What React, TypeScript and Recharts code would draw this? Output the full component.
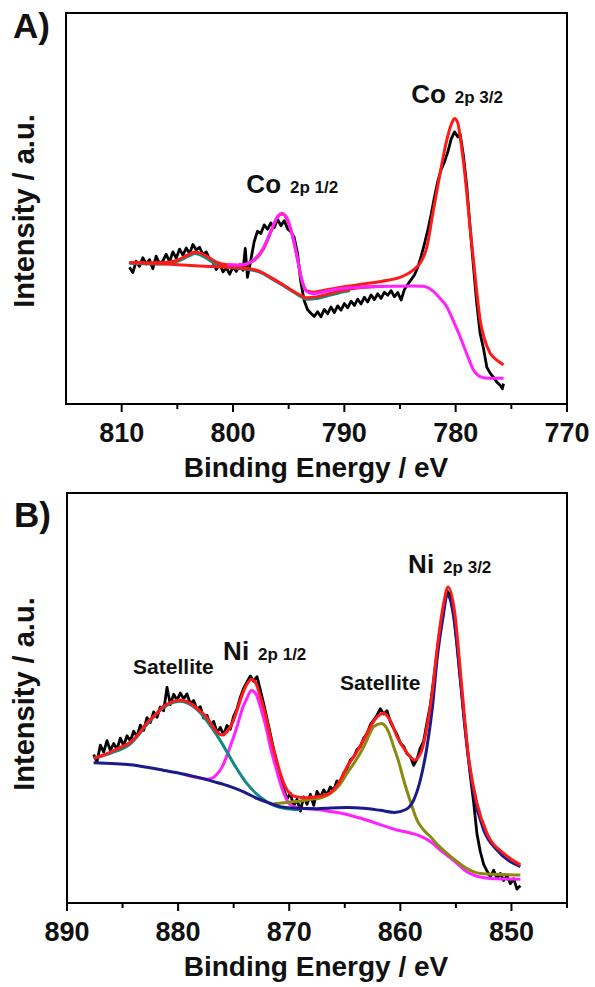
import React from 'react';
import { LineChart, Line, XAxis, YAxis, ReferenceArea, ReferenceDot } from 'recharts';

type Pt = { x: number; y: number };
const pts = (rows: number[][]): Pt[] => rows.map(([x, y]) => ({ x, y }));

// ---------- Panel A: Co 2p ----------
const ticksA = [770, 775, 780, 785, 790, 795, 800, 805, 810];

const rawA = pts([
  [809.3, 35.0], [809.0, 33.6], [808.7, 36.5], [808.4, 35.2], [808.1, 37.4], [807.8, 35.8], [807.5, 36.9],
  [807.2, 34.6], [806.9, 37.8], [806.6, 35.9], [806.3, 36.6], [806.0, 38.3], [805.7, 36.4], [805.4, 38.9],
  [805.1, 37.3], [804.8, 39.6], [804.5, 38.1], [804.2, 39.9], [803.9, 38.5], [803.6, 40.8], [803.3, 39.4],
  [803.0, 40.1], [802.7, 38.2], [802.4, 38.9], [802.1, 37.0], [801.8, 36.3], [801.5, 34.4], [801.2, 35.9],
  [800.9, 33.8], [800.6, 34.9], [800.3, 33.2], [800.0, 35.1], [799.7, 33.9], [799.4, 35.6], [799.1, 34.2],
  [798.9, 39.8], [798.7, 32.4], [798.4, 36.8], [798.1, 41.5], [797.8, 44.2], [797.5, 43.6], [797.2, 45.8],
  [796.9, 44.7], [796.6, 46.3], [796.3, 45.1], [796.0, 47.2], [795.7, 45.6], [795.4, 46.9], [795.1, 44.8],
  [794.8, 44.1], [794.5, 42.6], [794.2, 38.4], [793.9, 31.0], [793.6, 26.4], [793.3, 24.1], [793.0, 23.2],
  [792.7, 22.4], [792.4, 23.6], [792.1, 22.3], [791.8, 24.2], [791.5, 23.1], [791.2, 24.8], [790.9, 23.4],
  [790.6, 25.1], [790.3, 24.0], [790.0, 25.7], [789.7, 24.6], [789.4, 26.3], [789.1, 25.2], [788.8, 26.8],
  [788.5, 25.6], [788.2, 27.3], [787.9, 26.1], [787.6, 27.9], [787.3, 26.7], [787.0, 28.2], [786.7, 27.0],
  [786.4, 28.6], [786.1, 27.8], [785.8, 29.0], [785.5, 27.4], [785.2, 28.5], [784.9, 26.6], [784.6, 29.3],
  [784.3, 30.6], [784.0, 31.8], [783.7, 33.0], [783.4, 35.0], [783.1, 37.8], [782.8, 41.0], [782.5, 44.5],
  [782.2, 48.5], [781.9, 53.0], [781.6, 57.0], [781.3, 60.0], [781.0, 62.0], [780.7, 64.5], [780.4, 67.8],
  [780.1, 69.6], [779.8, 68.3], [779.6, 69.0], [779.3, 63.5], [779.0, 55.6], [778.7, 45.0], [778.4, 35.1],
  [778.1, 25.5], [777.8, 18.0], [777.5, 14.2], [777.2, 9.4], [776.9, 7.9], [776.6, 6.8], [776.3, 5.6],
  [776.0, 4.8], [775.8, 3.9], [775.7, 5.2],
]);

const tealA = pts([
  [809.3, 36.0], [807.0, 35.8], [806.0, 35.9], [805.0, 36.5], [804.0, 37.8], [803.4, 38.5], [802.5, 37.5],
  [801.5, 35.7], [800.5, 35.0], [798.8, 34.5], [797.5, 33.6], [796.5, 32.0], [795.5, 30.3], [794.5, 28.5],
  [793.8, 27.3], [793.4, 26.8], [792.5, 27.0], [791.5, 27.7], [790.5, 28.4], [789.5, 29.0],
]);

const baseA = pts([
  [809.3, 36.2], [806.0, 35.8], [803.0, 35.3], [800.5, 35.0], [798.8, 34.7], [797.5, 33.8], [796.5, 32.2],
  [795.5, 30.5], [794.5, 28.7], [793.8, 27.6], [793.4, 27.2], [792.5, 27.4], [791.5, 28.1], [790.5, 28.8],
  [789.5, 29.4], [788.5, 29.8], [787.5, 30.0], [786.5, 30.1],
]);

const envA = pts([
  [809.3, 36.2], [807.5, 36.1], [806.0, 36.2], [805.0, 36.8], [804.0, 38.2], [803.4, 38.9], [802.5, 38.0],
  [801.5, 36.3], [800.5, 35.6], [799.5, 35.5], [798.8, 35.8], [798.0, 37.0], [797.3, 39.5], [796.6, 44.0],
  [796.0, 47.8], [795.6, 48.6], [795.2, 47.6], [794.7, 43.5], [794.2, 37.0], [793.8, 31.5], [793.4, 29.0],
  [792.8, 28.6], [792.0, 29.0], [791.0, 29.5], [790.0, 30.0], [789.0, 30.4], [788.0, 30.8], [787.0, 31.2],
  [786.0, 31.7], [785.0, 32.4], [784.3, 33.3], [783.8, 34.3], [783.2, 36.0], [782.6, 40.0], [782.0, 49.6],
  [781.4, 59.0], [780.8, 67.5], [780.4, 71.5], [780.1, 73.0], [779.8, 71.8], [779.6, 68.4], [779.3, 62.0],
  [779.0, 53.9], [778.7, 45.0], [778.4, 36.8], [778.1, 28.5], [777.8, 21.5], [777.4, 16.5], [776.9, 13.0],
  [776.3, 11.2], [775.7, 10.0],
]);

const magA = pts([
  [800.5, 35.6], [799.5, 35.5], [798.8, 35.8], [798.0, 37.2], [797.3, 39.8], [796.6, 44.2], [796.0, 48.0],
  [795.6, 48.8], [795.2, 47.8], [794.7, 43.5], [794.2, 37.0], [793.8, 31.5], [793.4, 28.8], [792.8, 28.2],
  [792.0, 28.6], [791.0, 29.2], [790.0, 29.6], [789.0, 29.8], [788.0, 30.0], [786.0, 30.1], [784.0, 30.2],
  [782.9, 30.1], [782.0, 28.8], [781.4, 27.0], [780.8, 24.9], [780.2, 21.2], [779.6, 17.2], [779.0, 12.8],
  [778.4, 8.7], [777.8, 7.0], [777.2, 6.6], [775.7, 6.6],
]);

// ---------- Panel B: Ni 2p ----------
const ticksB = [845, 850, 855, 860, 865, 870, 875, 880, 885, 890];

const rawB = pts([
  [887.6, 36.2], [887.3, 34.4], [887.0, 38.5], [886.7, 36.8], [886.4, 39.6], [886.1, 37.2], [885.8, 38.9],
  [885.5, 37.5], [885.2, 40.2], [884.9, 38.4], [884.6, 40.8], [884.3, 39.5], [884.0, 41.9], [883.7, 40.6],
  [883.4, 43.4], [883.1, 42.1], [882.8, 45.2], [882.5, 44.0], [882.2, 46.6], [881.9, 45.3], [881.6, 47.8],
  [881.3, 46.9], [881.0, 52.6], [880.7, 48.4], [880.4, 50.9], [880.1, 49.5], [879.8, 51.2], [879.5, 49.8],
  [879.2, 51.0], [878.9, 48.6], [878.6, 49.4], [878.3, 47.2], [878.0, 47.9], [877.7, 45.1], [877.4, 45.8],
  [877.1, 43.2], [876.8, 44.3], [876.5, 41.6], [876.2, 42.8], [875.9, 41.0], [875.6, 43.3], [875.3, 42.4],
  [875.0, 45.6], [874.7, 47.3], [874.4, 50.2], [874.1, 52.4], [873.8, 53.9], [873.5, 55.4], [873.2, 54.1],
  [872.9, 55.2], [872.6, 52.0], [872.3, 48.6], [872.0, 45.0], [871.7, 41.2], [871.4, 37.5], [871.1, 33.8],
  [870.8, 30.2], [870.5, 27.9], [870.2, 25.4], [869.9, 26.8], [869.6, 23.6], [869.3, 25.3], [869.0, 22.4],
  [868.7, 25.9], [868.4, 24.1], [868.1, 26.5], [867.8, 23.8], [867.5, 27.2], [867.2, 25.8], [866.9, 27.6],
  [866.6, 26.4], [866.3, 28.3], [866.0, 27.5], [865.7, 29.8], [865.4, 29.2], [865.1, 31.7], [864.8, 32.8],
  [864.5, 34.9], [864.2, 35.6], [863.9, 37.4], [863.6, 38.1], [863.3, 40.2], [863.0, 41.3], [862.7, 43.5],
  [862.4, 44.6], [862.1, 45.8], [861.8, 47.4], [861.5, 46.1], [861.2, 46.9], [860.9, 44.2], [860.6, 42.6],
  [860.3, 41.1], [860.0, 39.0], [859.7, 38.2], [859.4, 36.4], [859.1, 35.7], [858.8, 33.6], [858.5, 35.1],
  [858.2, 37.8], [857.9, 39.5], [857.6, 44.0], [857.3, 48.2], [857.0, 54.6], [856.7, 61.0], [856.4, 67.5],
  [856.1, 72.4], [855.8, 76.2], [855.5, 75.0], [855.2, 70.4], [854.9, 63.2], [854.6, 54.8], [854.3, 46.0],
  [854.0, 38.5], [853.7, 31.0], [853.4, 24.5], [853.1, 16.8], [852.8, 12.5], [852.5, 9.4], [852.2, 7.8],
  [851.9, 6.4], [851.6, 8.0], [851.3, 6.0], [851.0, 7.2], [850.7, 5.5], [850.4, 6.6], [850.1, 4.7],
  [849.8, 5.9], [849.5, 3.4], [849.2, 4.2],
]);

const magB = pts([
  [879.5, 31.4], [878.3, 30.6], [877.4, 30.2], [877.0, 30.4], [876.5, 31.4], [876.0, 33.4], [875.4, 37.5],
  [874.7, 43.0], [874.2, 47.5], [873.8, 50.0], [873.4, 51.8], [873.0, 51.0], [872.6, 47.9], [872.1, 43.0],
  [871.7, 38.1], [871.2, 33.0], [870.8, 29.2], [870.4, 26.2], [870.0, 24.3], [869.5, 23.4], [869.0, 23.1],
  [868.0, 22.9], [866.5, 22.4], [865.3, 21.9], [863.5, 20.6], [862.0, 19.3], [860.3, 17.8], [859.0, 17.0],
  [858.2, 16.3], [857.2, 14.8], [856.4, 12.9], [855.5, 11.0], [854.9, 9.7], [854.2, 8.0], [853.4, 6.8],
  [851.9, 6.0], [849.2, 5.8],
]);

const tealB = pts([
  [887.6, 35.3], [886.0, 36.6], [884.3, 38.8], [882.85, 43.4], [881.35, 47.6], [879.85, 49.2], [878.3, 47.2],
  [877.4, 44.4], [876.2, 39.6], [875.0, 34.0], [873.8, 29.1], [872.6, 25.8], [871.4, 23.8], [870.2, 23.0],
  [869.0, 22.8],
]);

const oliveB = pts([
  [871.4, 24.2], [870.0, 24.6], [869.0, 24.9], [868.0, 25.3], [867.0, 25.8], [866.3, 26.7], [865.5, 28.7],
  [864.8, 31.6], [864.0, 34.8], [863.3, 38.1], [862.8, 41.0], [862.4, 43.0], [861.7, 43.8], [861.1, 42.0],
  [860.6, 38.1], [860.1, 34.0], [859.7, 30.0], [859.1, 24.8], [858.5, 20.2], [857.9, 17.8], [857.3, 16.2],
  [856.5, 13.8], [855.8, 12.1], [855.0, 10.3], [854.3, 8.9], [852.8, 7.2], [849.2, 6.8],
]);

const blueB = pts([
  [887.6, 34.2], [886.0, 34.0], [884.3, 33.7], [882.8, 33.1], [881.35, 32.4], [879.8, 31.6], [878.3, 30.7],
  [876.8, 29.6], [875.3, 28.4], [874.0, 27.0], [872.9, 25.5], [871.8, 24.4], [870.8, 23.5], [869.3, 23.1],
  [867.5, 23.0], [866.3, 23.2], [864.8, 23.3], [863.3, 23.1], [861.8, 22.6], [860.5, 22.1], [859.5, 22.8],
  [858.8, 25.1], [858.2, 30.0], [857.6, 38.1], [857.1, 48.0], [856.7, 59.3], [856.1, 70.7], [855.8, 75.1],
  [855.2, 69.8], [854.6, 54.4], [854.0, 38.1], [853.4, 26.7], [852.5, 17.8], [851.3, 12.9], [849.2, 8.9],
]);

const envB = pts([
  [887.6, 35.3], [886.5, 36.3], [885.5, 37.6], [884.3, 39.2], [883.5, 41.4], [882.85, 43.8], [882.0, 46.0],
  [881.35, 47.9], [880.6, 49.0], [879.85, 49.5], [879.1, 49.0], [878.3, 47.5], [877.4, 45.2], [876.6, 42.0],
  [876.1, 41.0], [875.6, 41.8], [875.1, 44.0], [874.7, 47.0], [874.2, 51.0], [873.8, 53.4], [873.4, 54.6],
  [873.0, 53.6], [872.6, 50.3], [872.1, 45.5], [871.7, 40.6], [871.2, 35.5], [870.8, 31.6], [870.2, 27.6],
  [869.5, 26.0], [868.5, 25.7], [867.5, 25.9], [866.3, 26.9], [865.5, 29.5], [864.8, 33.2], [864.0, 36.5],
  [863.3, 39.8], [862.7, 43.0], [862.1, 45.4], [861.5, 46.3], [860.9, 44.5], [860.3, 40.6], [859.5, 37.0],
  [858.7, 34.9], [858.1, 37.0], [857.6, 43.0], [857.1, 52.0], [856.7, 61.7], [856.1, 73.1], [855.7, 77.1],
  [855.1, 70.7], [854.5, 53.6], [853.9, 36.5], [853.1, 24.3], [852.2, 17.0], [850.7, 12.1], [849.2, 9.3],
]);

const FONT = '"Liberation Sans", Arial, Helvetica, sans-serif';

const AxisTick = (props: any) => {
  const { x, y, payload } = props;
  const major = payload.value % 10 === 0;
  return (
    <g>
      <line x1={x} x2={x} y1={y} y2={y + (major ? 8 : 5)} stroke="#000" strokeWidth={2} />
      {major && (
        <text x={x} y={y + 38} textAnchor="middle" fontFamily={FONT} fontWeight="bold" fontSize={27} fill="#111">
          {payload.value}
        </text>
      )}
    </g>
  );
};

const Peak = ({ cx, cy, main, sub }: any) => (
  <text x={cx} y={cy} fontFamily={FONT} fontWeight="bold" fill="#111">
    <tspan fontSize={26}>{main}</tspan>
    <tspan fontSize={17} dx={9}>{sub}</tspan>
  </text>
);

const Word = ({ cx, cy, text }: any) => (
  <text x={cx} y={cy} fontFamily={FONT} fontWeight="bold" fontSize={21} fill="#111">
    {text}
  </text>
);

const line = (data: Pt[], color: string, w = 3, type: 'linear' | 'monotone' = 'monotone') => (
  <Line
    data={data}
    dataKey="y"
    type={type}
    stroke={color}
    strokeWidth={w}
    dot={false}
    activeDot={false}
    isAnimationActive={false}
    strokeLinejoin="round"
  />
);

export default function App() {
  return (
    <div style={{ position: 'absolute', left: 0, top: 0, width: 595, height: 987, background: '#fff' }}>
      <div style={{ position: 'absolute', left: 0, top: 0 }}>
        <LineChart width={595} height={487} margin={{ top: 13, right: 28, left: 0, bottom: 0 }}>
          <XAxis
            dataKey="x"
            type="number"
            domain={[770, 815]}
            reversed
            allowDataOverflow
            ticks={ticksA}
            interval={0}
            tick={<AxisTick />}
            tickSize={0}
            tickMargin={0}
            tickLine={false}
            axisLine={false}
            height={83}
          />
          <YAxis domain={[0, 100]} width={66} tick={false} tickLine={false} axisLine={false} allowDataOverflow />
          {line(rawA, '#000', 2.8, 'linear')}
          {line(tealA, '#128a80')}
          {line(baseA, '#ff1a1a')}
          {line(envA, '#ff1a1a')}
          {line(magA, '#ff22ff')}
          <ReferenceArea x1={770} x2={815} y1={0} y2={100} fill="none" stroke="#000" strokeWidth={2} ifOverflow="visible" />
          <ReferenceDot x={798.8} y={54} r={1} shape={(p: any) => <Peak cx={p.cx} cy={p.cy} main="Co" sub="2p 1/2" />} />
          <ReferenceDot x={784.0} y={77.1} r={1} shape={(p: any) => <Peak cx={p.cx} cy={p.cy} main="Co" sub="2p 3/2" />} />
        </LineChart>
      </div>
      <div style={{ position: 'absolute', left: 0, top: 480 }}>
        <LineChart width={595} height={507} margin={{ top: 13, right: 28, left: 0, bottom: 0 }}>
          <XAxis
            dataKey="x"
            type="number"
            domain={[845, 890]}
            reversed
            allowDataOverflow
            ticks={ticksB}
            interval={0}
            tick={<AxisTick />}
            tickSize={0}
            tickMargin={0}
            tickLine={false}
            axisLine={false}
            height={84}
          />
          <YAxis domain={[0, 100]} width={67} tick={false} tickLine={false} axisLine={false} allowDataOverflow />
          {line(rawB, '#000', 2.8, 'linear')}
          {line(magB, '#ff22ff')}
          {line(tealB, '#128a80')}
          {line(oliveB, '#8a8a10')}
          {line(blueB, '#1a1a8a')}
          {line(envB, '#ff1a1a')}
          <ReferenceArea x1={845} x2={890} y1={0} y2={100} fill="none" stroke="#000" strokeWidth={2} ifOverflow="visible" />
          <ReferenceDot x={884.05} y={55.8} r={1} shape={(p: any) => <Word cx={p.cx} cy={p.cy} text="Satellite" />} />
          <ReferenceDot x={875.95} y={59.3} r={1} shape={(p: any) => <Peak cx={p.cx} cy={p.cy} main="Ni" sub="2p 1/2" />} />
          <ReferenceDot x={865.43} y={52.0} r={1} shape={(p: any) => <Word cx={p.cx} cy={p.cy} text="Satellite" />} />
          <ReferenceDot x={859.3} y={80.6} r={1} shape={(p: any) => <Peak cx={p.cx} cy={p.cy} main="Ni" sub="2p 3/2" />} />
        </LineChart>
      </div>
      <svg width={595} height={987} style={{ position: 'absolute', left: 0, top: 0, pointerEvents: 'none' }}>
        <g fontFamily={FONT} fontWeight="bold" fill="#111">
          <text x={13} y={38} fontSize={35}>A)</text>
          <text x={14} y={527} fontSize={35}>B)</text>
          <text transform="translate(34,211) rotate(-90)" textAnchor="middle" fontSize={29}>Intensity / a.u.</text>
          <text transform="translate(34,694) rotate(-90)" textAnchor="middle" fontSize={29}>Intensity / a.u.</text>
          <text x={316} y={477} textAnchor="middle" fontSize={28}>Binding Energy / eV</text>
          <text x={316} y={976} textAnchor="middle" fontSize={28}>Binding Energy / eV</text>
        </g>
      </svg>
    </div>
  );
}
